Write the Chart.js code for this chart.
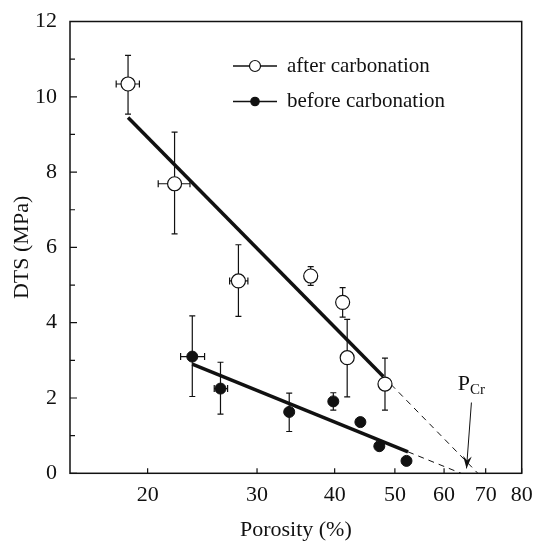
<!DOCTYPE html>
<html>
<head>
<meta charset="utf-8">
<script src="https://cdn.jsdelivr.net/npm/chart.js@4"></script>
<style>
  html, body { margin: 0; padding: 0; background: #fff; }
</style>
</head>
<body>
<canvas id="chart" width="534" height="541"></canvas>
<script>
// Porosity (%) vs DTS (MPa)
const afterPorosity = [18.6, 22.1, 28.0, 36.6, 41.2, 41.9, 48.2];
const afterDTS = [10.34, 7.69, 5.11, 5.24, 4.54, 3.07, 2.37];
const afterDTSLow = [9.54, 6.36, 4.17, 4.99, 4.15, 2.03, 1.68];
const afterDTSHigh = [11.1, 9.06, 6.07, 5.49, 4.93, 4.09, 3.06];
const afterPorLow = [17.8, 20.8, 27.1, null, null, null, null];
const afterPorHigh = [19.4, 23.4, 29.0, null, null, null, null];

const beforePorosity = [23.6, 26.2, 33.8, 39.8, 44.0, 47.2, 52.2];
const beforeDTS = [3.10, 2.25, 1.63, 1.91, 1.36, 0.72, 0.33];
const beforeDTSLow = [2.04, 1.57, 1.11, 1.68, null, null, null];
const beforeDTSHigh = [4.18, 2.95, 2.13, 2.14, null, null, null];
const beforePorLow = [22.6, 25.6, null, null, null, null, null];
const beforePorHigh = [24.7, 26.9, null, null, null, null, null];

// fitted lines, then the dashed extrapolation down to DTS = 0
const afterFitPorosity = [18.6, 47.9];
const afterFitDTS = [9.45, 2.57];
const afterExtPorosity = [47.9, 68.0];
const afterExtDTS = [2.57, 0];
const beforeFitPorosity = [23.6, 52.5];
const beforeFitDTS = [2.90, 0.57];
const beforeExtPorosity = [52.5, 63.9];
const beforeExtDTS = [0.57, 0];

// critical porosity annotation
const arrowPorosity = [66.4, 65.2];
const arrowDTS = [1.88, 0.13];
const pcrPorosity = 63.1;
const pcrDTS = 2.21;

// axes
const xTicks = [20, 30, 40, 50, 60, 70, 80];
const yTicks = [0, 2, 4, 6, 8, 10, 12];
const yMinorTicks = [1, 3, 5, 7, 9, 11];
const seriesLabels = ['after carbonation', 'before carbonation'];

const ink = '#111';
const serif = "'Liberation Serif', 'Times New Roman', serif";

const toPoints = (xs, ys) => xs.map((x, i) => ({ x, y: ys[i] }));

const lineSet = (xs, ys, width, dash) => ({
  type: 'line',
  data: toPoints(xs, ys),
  borderColor: ink,
  borderWidth: width,
  borderDash: dash,
  pointRadius: 0,
  fill: false,
  order: 2,
});

// keep the plot box where the layout padding puts it
const noOverflow = (s) => {
  s.paddingLeft = 0; s.paddingRight = 0;
  s.paddingTop = 0; s.paddingBottom = 0;
};

// error bars, box, inward ticks, legend and the P_Cr arrow
const extras = {
  id: 'extras',
  beforeDatasetsDraw(chart) {
    const { ctx, scales: { x, y } } = chart;
    ctx.save();
    ctx.strokeStyle = ink;
    ctx.lineWidth = 1.2;
    const bars = (px, py, lo, hi, xlo, xhi) => {
      px.forEach((p, i) => {
        const cx = x.getPixelForValue(p);
        const cy = y.getPixelForValue(py[i]);
        ctx.beginPath();
        if (lo[i] != null) {
          const y1 = y.getPixelForValue(lo[i]);
          const y2 = y.getPixelForValue(hi[i]);
          ctx.moveTo(cx, y1); ctx.lineTo(cx, y2);
          ctx.moveTo(cx - 3, y1); ctx.lineTo(cx + 3, y1);
          ctx.moveTo(cx - 3, y2); ctx.lineTo(cx + 3, y2);
        }
        if (xlo[i] != null) {
          const x1 = x.getPixelForValue(xlo[i]);
          const x2 = x.getPixelForValue(xhi[i]);
          ctx.moveTo(x1, cy); ctx.lineTo(x2, cy);
          ctx.moveTo(x1, cy - 3.5); ctx.lineTo(x1, cy + 3.5);
          ctx.moveTo(x2, cy - 3.5); ctx.lineTo(x2, cy + 3.5);
        }
        ctx.stroke();
      });
    };
    bars(afterPorosity, afterDTS, afterDTSLow, afterDTSHigh, afterPorLow, afterPorHigh);
    bars(beforePorosity, beforeDTS, beforeDTSLow, beforeDTSHigh, beforePorLow, beforePorHigh);
    ctx.restore();
  },
  afterDraw(chart) {
    const { ctx, chartArea: a, scales: { x, y } } = chart;
    ctx.save();
    ctx.strokeStyle = ink;
    ctx.fillStyle = ink;

    // frame
    ctx.lineWidth = 1.5;
    ctx.strokeRect(a.left, a.top, a.right - a.left, a.bottom - a.top);

    // inward tick marks
    ctx.lineWidth = 1.2;
    ctx.beginPath();
    xTicks.forEach((v) => {
      const px = x.getPixelForValue(v);
      ctx.moveTo(px, a.bottom); ctx.lineTo(px, a.bottom - 5);
    });
    yTicks.forEach((v) => {
      const py = y.getPixelForValue(v);
      ctx.moveTo(a.left, py); ctx.lineTo(a.left + 7, py);
    });
    yMinorTicks.forEach((v) => {
      const py = y.getPixelForValue(v);
      ctx.moveTo(a.left, py); ctx.lineTo(a.left + 5, py);
    });
    ctx.stroke();

    // P_Cr arrow
    const ax1 = x.getPixelForValue(arrowPorosity[0]);
    const ay1 = y.getPixelForValue(arrowDTS[0]);
    const ax2 = x.getPixelForValue(arrowPorosity[1]);
    const ay2 = y.getPixelForValue(arrowDTS[1]);
    ctx.lineWidth = 1;
    ctx.beginPath();
    ctx.moveTo(ax1, ay1); ctx.lineTo(ax2, ay2);
    ctx.stroke();
    const ang = Math.atan2(ay2 - ay1, ax2 - ax1);
    ctx.beginPath();
    ctx.moveTo(ax2, ay2);
    ctx.lineTo(ax2 - 13 * Math.cos(ang - 0.34), ay2 - 13 * Math.sin(ang - 0.34));
    ctx.lineTo(ax2 - 8 * Math.cos(ang), ay2 - 8 * Math.sin(ang));
    ctx.lineTo(ax2 - 13 * Math.cos(ang + 0.34), ay2 - 13 * Math.sin(ang + 0.34));
    ctx.closePath();
    ctx.fill();

    // P_Cr label
    const lx = x.getPixelForValue(pcrPorosity);
    const ly = y.getPixelForValue(pcrDTS);
    ctx.textBaseline = 'alphabetic';
    ctx.textAlign = 'left';
    ctx.font = '22px ' + serif;
    ctx.fillText('P', lx, ly);
    const pw = ctx.measureText('P').width;
    ctx.font = '15px ' + serif;
    ctx.fillText('Cr', lx + pw, ly + 4);

    // legend
    const lx1 = a.left + 163;
    const lx2 = a.left + 207;
    const mx = (lx1 + lx2) / 2;
    const rows = [a.top + 44.5, a.top + 80];
    ctx.font = '21px ' + serif;
    ctx.textBaseline = 'middle';
    rows.forEach((ry, i) => {
      ctx.lineWidth = 1.6;
      ctx.beginPath();
      ctx.moveTo(lx1, ry); ctx.lineTo(lx2, ry);
      ctx.stroke();
      ctx.beginPath();
      ctx.arc(mx, ry, i === 0 ? 5.5 : 4.2, 0, Math.PI * 2);
      ctx.fillStyle = i === 0 ? '#fff' : ink;
      ctx.fill();
      ctx.lineWidth = 1.2;
      ctx.stroke();
      ctx.fillStyle = ink;
      ctx.fillText(seriesLabels[i], a.left + 217, ry);
    });
    ctx.restore();
  },
};

new Chart(document.getElementById('chart'), {
  type: 'scatter',
  data: {
    datasets: [
      {
        label: seriesLabels[0],
        data: toPoints(afterPorosity, afterDTS),
        pointRadius: 7,
        pointBackgroundColor: '#fff',
        pointBorderColor: ink,
        pointBorderWidth: 1.2,
        order: 0,
      },
      {
        label: seriesLabels[1],
        data: toPoints(beforePorosity, beforeDTS),
        pointRadius: 5.5,
        pointBackgroundColor: ink,
        pointBorderColor: ink,
        pointBorderWidth: 1,
        order: 0,
      },
      lineSet(afterFitPorosity, afterFitDTS, 3.5, []),
      lineSet(beforeFitPorosity, beforeFitDTS, 3.5, []),
      lineSet(afterExtPorosity, afterExtDTS, 1, [6, 5]),
      lineSet(beforeExtPorosity, beforeExtDTS, 1, [6, 5]),
    ],
  },
  options: {
    responsive: false,
    animation: false,
    devicePixelRatio: 1,
    layout: { padding: { top: 21.5, right: 12.3, bottom: 0, left: 0 } },
    plugins: {
      legend: { display: false },
      tooltip: { enabled: false },
    },
    scales: {
      x: {
        type: 'logarithmic',
        min: 15,
        max: 80,
        afterBuildTicks: (s) => { s.ticks = xTicks.map((v) => ({ value: v })); },
        afterFit: (s) => { s.height = 67.7; noOverflow(s); },
        grid: { display: false, drawTicks: false },
        border: { display: false },
        ticks: {
          color: ink,
          font: { family: serif, size: 22 },
          padding: 9,
          autoSkip: false,
          maxRotation: 0,
          callback: (v) => String(v),
        },
        title: {
          display: true,
          text: 'Porosity (%)',
          color: ink,
          font: { family: serif, size: 22, lineHeight: 1 },
          padding: { top: 0, bottom: 0 },
        },
      },
      y: {
        min: 0,
        max: 12,
        afterBuildTicks: (s) => { s.ticks = yTicks.map((v) => ({ value: v })); },
        afterFit: (s) => { s.width = 70; noOverflow(s); },
        grid: { display: false, drawTicks: false },
        border: { display: false },
        ticks: {
          color: ink,
          font: { family: serif, size: 22 },
          padding: 13,
        },
        title: {
          display: true,
          text: 'DTS (MPa)',
          color: ink,
          font: { family: serif, size: 22, lineHeight: 1 },
          padding: { top: 11, bottom: 0 },
        },
      },
    },
  },
  plugins: [extras],
});
</script>
</body>
</html>
